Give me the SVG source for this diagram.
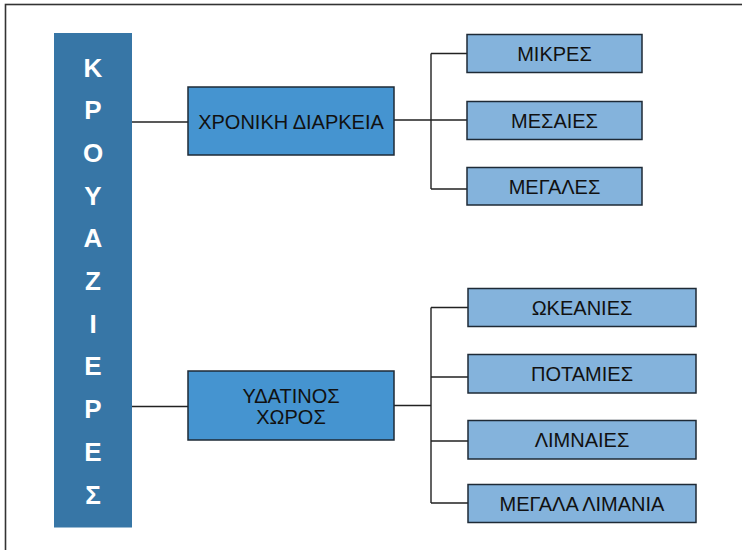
<svg xmlns="http://www.w3.org/2000/svg" width="742" height="550" viewBox="0 0 742 550">
<style>
.frame{fill:none;stroke:#333;stroke-width:1.6}
.mid{fill:#4594d0;stroke:#1e2a36;stroke-width:1.5}
.leaf{fill:#84b3dc;stroke:#1e2a36;stroke-width:1.5}
.t{font-family:"Liberation Sans",Arial,sans-serif;font-size:20px;fill:#111;text-anchor:middle}
.v{font-family:"Liberation Sans",Arial,sans-serif;font-size:26px;font-weight:bold;fill:#fff;text-anchor:middle}
.c{fill:none;stroke:#222;stroke-width:1.4}
</style>
<rect class="frame" x="5.5" y="4.5" width="760" height="570"/>
<g id="connectors">
<path class="c" d="M132 122H188"/>
<path class="c" d="M132 406.5H188"/>
<path class="c" d="M394 120H467M431 53.5V189M431 53.5H467M431 189H467"/>
<path class="c" d="M394 405.5H431M431 307.5V503M431 307.5H468M431 377H468M431 441H468M431 503H468"/>
</g>
<g id="root">
<rect x="54" y="33" width="78" height="494.5" fill="#3776a6"/>
<text class="v" x="93" y="76.5">Κ</text>
<text class="v" x="93" y="119.2">Ρ</text>
<text class="v" x="93" y="161.9">Ο</text>
<text class="v" x="93" y="204.6">Υ</text>
<text class="v" x="93" y="247.3">Α</text>
<text class="v" x="93" y="290">Ζ</text>
<text class="v" x="93" y="332.7">Ι</text>
<text class="v" x="93" y="375.4">Ε</text>
<text class="v" x="93" y="418.1">Ρ</text>
<text class="v" x="93" y="460.8">Ε</text>
<text class="v" x="93" y="503.5">Σ</text>
</g>
<g id="n-duration">
<rect class="mid" x="188" y="87" width="206" height="68"/>
<text class="t" x="291" y="128.5">ΧΡΟΝΙΚΗ ΔΙΑΡΚΕΙΑ</text>
</g>
<g id="n-water">
<rect class="mid" x="188" y="371" width="206" height="69"/>
<text class="t" x="291" y="403">ΥΔΑΤΙΝΟΣ</text>
<text class="t" x="291" y="424">ΧΩΡΟΣ</text>
</g>
<g id="n-small">
<rect class="leaf" x="467" y="34.5" width="175" height="38"/>
<text class="t" x="554.5" y="60.5">ΜΙΚΡΕΣ</text>
</g>
<g id="n-medium">
<rect class="leaf" x="467" y="101.5" width="175" height="38"/>
<text class="t" x="554.5" y="127.5">ΜΕΣΑΙΕΣ</text>
</g>
<g id="n-large">
<rect class="leaf" x="467" y="167.5" width="175" height="37.5"/>
<text class="t" x="554.5" y="193.5">ΜΕΓΑΛΕΣ</text>
</g>
<g id="n-ocean">
<rect class="leaf" x="468" y="288.5" width="228" height="38"/>
<text class="t" x="582" y="314.5">ΩΚΕΑΝΙΕΣ</text>
</g>
<g id="n-river">
<rect class="leaf" x="468" y="354.5" width="228" height="38.5"/>
<text class="t" x="582" y="380.5">ΠΟΤΑΜΙΕΣ</text>
</g>
<g id="n-lake">
<rect class="leaf" x="468" y="420.5" width="228" height="38.5"/>
<text class="t" x="582" y="446.5">ΛΙΜΝΑΙΕΣ</text>
</g>
<g id="n-ports">
<rect class="leaf" x="468" y="484.5" width="228" height="38"/>
<text class="t" x="582" y="510.5">ΜΕΓΑΛΑ ΛΙΜΑΝΙΑ</text>
</g>
</svg>
